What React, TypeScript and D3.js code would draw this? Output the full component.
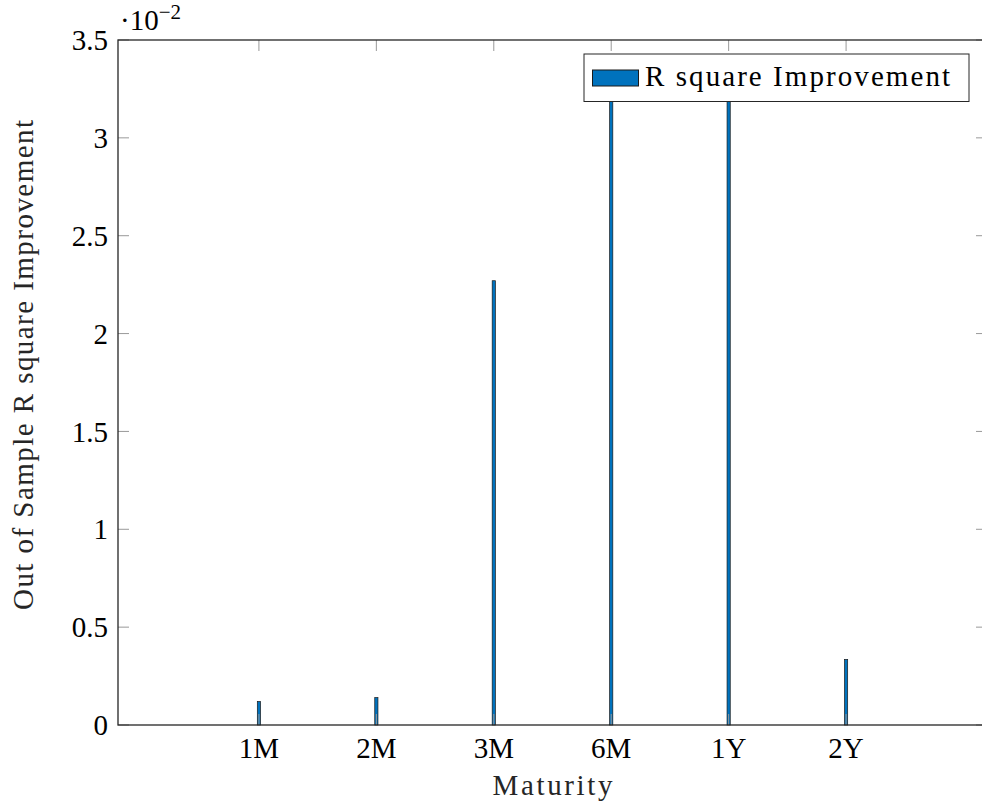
import React from "react";
import * as d3 from "d3";

const categories = ["1M", "2M", "3M", "6M", "1Y", "2Y"];
const values = [0.12, 0.14, 2.27, 3.3, 3.3, 0.335];
const yTicks = [0, 0.5, 1, 1.5, 2, 2.5, 3, 3.5];
const yTickLabels = ["0", "0.5", "1", "1.5", "2", "2.5", "3", "3.5"];
const seriesName = "R square Improvement";
const xTitle = "Maturity";
const yTitle = "Out of Sample R square Improvement";

const W = 982;
const H = 807;
const FONT = "'Liberation Serif', 'DejaVu Serif', serif";

export default function App() {
  const left = 118;
  const right = 987;
  const top = 40;
  const bottom = 725;
  const x = d3.scaleLinear().domain([-0.2, 7.2]).range([left, right]);
  const y = d3.scaleLinear().domain([0, 3.5]).range([bottom, top]);
  const barW = 3.2;
  const tickLen = 11;
  const fs = 29;

  return (
    <svg
      width={W}
      height={H}
      style={{ position: "absolute", left: 0, top: 0, background: "#fff" }}
      fontFamily={FONT}
    >
      <rect x={0} y={0} width={W} height={H} fill="#fff" />
      {values.map((v, i) => (
        <rect
          key={categories[i]}
          x={x(i + 1) - barW / 2}
          y={y(v)}
          width={barW}
          height={y(0) - y(v)}
          fill="#0072bd"
          stroke="#1a1a1a"
          strokeWidth={0.7}
        />
      ))}
      {yTicks.map((t) => (
        <g key={"yt" + t}>
          <line x1={left} x2={left + tickLen} y1={y(t)} y2={y(t)} stroke="#999" strokeWidth={1} />
          <line x1={right} x2={right - tickLen} y1={y(t)} y2={y(t)} stroke="#999" strokeWidth={1} />
        </g>
      ))}
      {categories.map((c, i) => (
        <g key={"xt" + c}>
          <line x1={x(i + 1)} x2={x(i + 1)} y1={bottom} y2={bottom - tickLen} stroke="#999" strokeWidth={1} />
          <line x1={x(i + 1)} x2={x(i + 1)} y1={top} y2={top + tickLen} stroke="#999" strokeWidth={1} />
        </g>
      ))}
      <rect x={left} y={top} width={right - left} height={bottom - top} fill="none" stroke="#262626" strokeWidth={1.3} />
      {yTicks.map((t, i) => (
        <text key={"yl" + t} x={left - 10} y={y(t)} dy="0.35em" textAnchor="end" fontSize={fs} fill="#000">
          {yTickLabels[i]}
        </text>
      ))}
      {categories.map((c, i) => (
        <text key={"xl" + c} x={x(i + 1)} y={bottom + 33} textAnchor="middle" fontSize={fs} fill="#000">
          {c}
        </text>
      ))}
      <text x={left + 2} y={30} fontSize={fs} fill="#000">
        ·10
        <tspan dy={-11} fontSize={21}>−2</tspan>
      </text>
      <text
        x={(left + right) / 2}
        y={795}
        textAnchor="middle"
        fontSize={fs}
        fill="#262626"
        textLength={120}
        lengthAdjust="spacing"
      >
        {xTitle}
      </text>
      <text
        transform={`translate(33, 365) rotate(-90)`}
        textAnchor="middle"
        fontSize={fs}
        fill="#262626"
        textLength={490}
        lengthAdjust="spacing"
      >
        {yTitle}
      </text>
      <g>
        <rect x={584} y={54} width={385} height={47.5} fill="#fff" stroke="#262626" strokeWidth={1} />
        <rect x={592.5} y={70} width={46} height={16} fill="#0072bd" stroke="#1a1a1a" strokeWidth={1} />
        <text x={645} y={86} fontSize={fs} fill="#000" textLength={305} lengthAdjust="spacing">
          {seriesName}
        </text>
      </g>
    </svg>
  );
}
